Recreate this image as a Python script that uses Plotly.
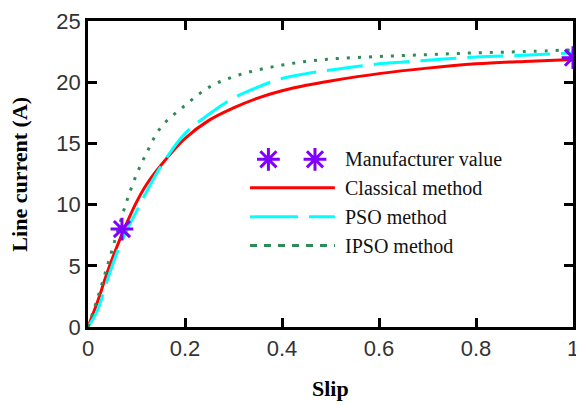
import plotly.graph_objects as go

# ---- data ----
slip = [0, 0.02, 0.04, 0.06, 0.08, 0.10, 0.12, 0.15, 0.20, 0.25, 0.30, 0.35, 0.40, 0.45, 0.50, 0.60, 0.70, 0.80, 0.90, 1.00]
classical = [0, 2.1, 4.5, 6.6, 8.5, 10.2, 11.6, 13.2, 15.4, 16.9, 17.9, 18.7, 19.3, 19.75, 20.1, 20.7, 21.15, 21.5, 21.7, 21.85]
pso = [0, 1.4, 3.85, 6.1, 7.9, 9.45, 11.0, 13.1, 15.8, 17.4, 18.7, 19.6, 20.3, 20.7, 21.0, 21.5, 21.8, 22.05, 22.2, 22.4]
ipso = [0, 2.4, 5.0, 7.7, 10.3, 12.45, 14.15, 16.3, 18.1, 19.6, 20.45, 21.0, 21.4, 21.7, 21.9, 22.1, 22.25, 22.4, 22.5, 22.65]
manuf_slip = [0.07, 1.0]
manuf_current = [8.0, 22.0]

x_ticks = [0, 0.2, 0.4, 0.6, 0.8, 1]
x_ticklabels = ["0", "0.2", "0.4", "0.6", "0.8", "1"]
y_ticks = [0, 5, 10, 15, 20, 25]

legend_names = ["Manufacturer value", "Classical method", "PSO method", "IPSO method"]

RED = "#FF0000"
CYAN = "#00FFFF"
GREEN = "#2E8B57"
PURPLE = "#7F00FF"

star = dict(symbol="asterisk-open", size=19, color=PURPLE, line=dict(color=PURPLE, width=3))

fig = go.Figure()

fig.add_trace(go.Scatter(x=slip, y=classical, mode="lines", line=dict(color=RED, width=3, shape="spline"), showlegend=False))
fig.add_trace(go.Scatter(x=slip, y=pso, mode="lines", line=dict(color=CYAN, width=3, dash="36px,11px", shape="spline"), showlegend=False))
fig.add_trace(go.Scatter(x=slip, y=ipso, mode="lines", line=dict(color=GREEN, width=3, dash="3px,8px", shape="spline"), showlegend=False))
fig.add_trace(go.Scatter(x=manuf_slip, y=manuf_current, mode="markers", marker=star,
                         showlegend=False, cliponaxis=False))

# ---- hand-built legend on an overlay axis (fractions of the plot area) ----
leg_y = [0.548, 0.455, 0.360, 0.266]
leg_x0, leg_x1, text_x = 0.334, 0.509, 0.526
fig.add_trace(go.Scatter(x=[0.372, 0.468], y=[leg_y[0]] * 2, mode="markers", xaxis="x2", yaxis="y2",
                         marker=star, showlegend=False))
fig.add_trace(go.Scatter(x=[leg_x0, leg_x1], y=[leg_y[1]] * 2, mode="lines", xaxis="x2", yaxis="y2",
                         line=dict(color=RED, width=3), showlegend=False))
fig.add_trace(go.Scatter(x=[leg_x0, leg_x1], y=[leg_y[2]] * 2, mode="lines", xaxis="x2", yaxis="y2",
                         line=dict(color=CYAN, width=3, dash="48px,11px"), showlegend=False))
fig.add_trace(go.Scatter(x=[leg_x0, leg_x1], y=[leg_y[3]] * 2, mode="lines", xaxis="x2", yaxis="y2",
                         line=dict(color=GREEN, width=3, dash="7px,7px"), showlegend=False))

annotations = []
for name, yy in zip(legend_names, leg_y):
    annotations.append(dict(x=text_x, y=yy, xref="x2", yref="y2", text=name, showarrow=False,
                            xanchor="left", yanchor="middle",
                            font=dict(family="Liberation Serif", size=20, color="#111")))

axis_common = dict(showline=True, linecolor="#000", linewidth=2.5, mirror="ticks", ticks="inside",
                   ticklen=9, tickwidth=2.5, tickcolor="#000", showgrid=False, zeroline=False,
                   automargin=False, ticklabeloverflow="allow",
                   tickfont=dict(family="Liberation Sans", size=22, color="#333"))

# the page body adds an 8px offset, so the figure is 8px smaller than the window
fig.update_layout(
    width=576, height=397,
    margin=dict(l=80, r=11, t=13, b=78),
    plot_bgcolor="white", paper_bgcolor="white",
    xaxis=dict(range=[0, 1], tickvals=x_ticks, ticktext=x_ticklabels, **axis_common),
    yaxis=dict(range=[0, 25], tickvals=y_ticks, **axis_common),
    xaxis2=dict(overlaying="x", range=[0, 1], visible=False),
    yaxis2=dict(overlaying="y", range=[0, 1], visible=False),
    annotations=[
        dict(x=0.5, y=-0.2, xref="x domain", yref="y domain", text="<b>Slip</b>", showarrow=False,
             yanchor="middle", font=dict(family="Liberation Serif", size=22, color="#000")),
        dict(x=-0.143, y=0.5, xref="x domain", yref="y domain", text="<b>Line current (A)</b>", showarrow=False,
             textangle=-90, xanchor="center", font=dict(family="Liberation Serif", size=22, color="#000")),
    ] + annotations,
)

fig.write_html("out.html")
